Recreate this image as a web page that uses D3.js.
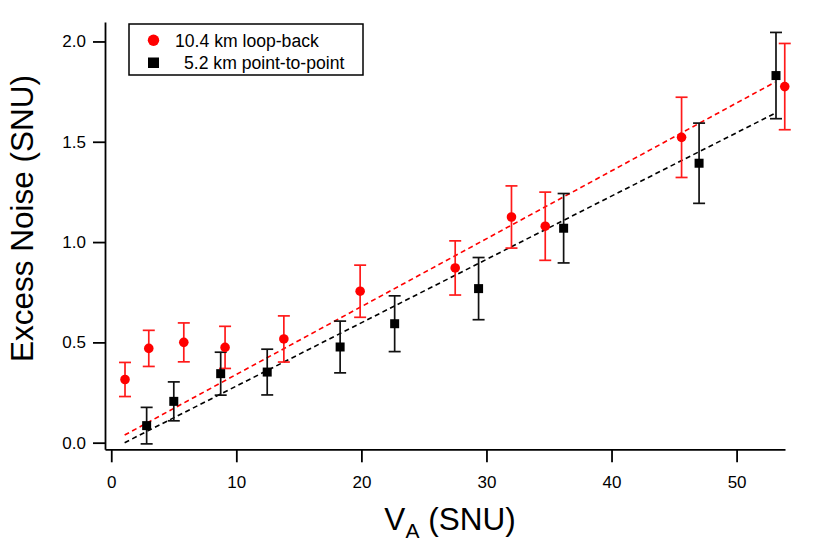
<!DOCTYPE html>
<html>
<head>
<meta charset="utf-8">
<script src="https://cdn.jsdelivr.net/npm/d3@7"></script>
<style>
	body { margin: 0; background: #fff; }
	svg { font-family: "Liberation Sans", Arial, Helvetica, sans-serif; }
</style>
</head>
<body>
<svg id="chart" width="830" height="541"></svg>
<script>
// 10.4 km loop-back (red circles)
let loopX = [1.1, 3.0, 5.8, 9.1, 13.8, 19.9, 27.5, 32.0, 34.7, 45.6, 53.85];
let loopY = [0.315, 0.47, 0.50, 0.475, 0.517, 0.755, 0.871, 1.125, 1.079, 1.522, 1.775];
let loopErr = [0.085, 0.09, 0.097, 0.105, 0.115, 0.13, 0.135, 0.155, 0.17, 0.2, 0.215];

// 5.2 km point-to-point (black squares)
let p2pX = [2.83, 5.0, 8.75, 12.47, 18.3, 22.66, 29.37, 36.17, 47.0, 53.15];
let p2pY = [0.085, 0.206, 0.344, 0.352, 0.477, 0.593, 0.768, 1.069, 1.393, 1.83];
let p2pErr = [0.091, 0.097, 0.107, 0.114, 0.129, 0.139, 0.155, 0.173, 0.2, 0.215];

// linear fits, end points
let fitX = [1.07, 53.07];
let loopFitY = [0.038, 1.797];
let p2pFitY = [0.0, 1.642];

let xTicks = [0, 10, 20, 30, 40, 50];
let yTicks = [0, 0.5, 1.0, 1.5, 2.0];

let legendLabels = ['10.4 km loop-back', '5.2 km point-to-point'];

let svg = d3.select('#chart');

let x = d3.scaleLinear()
	.domain([-0.5, 53.87])
	.range([105, 785]);

let y = d3.scaleLinear()
	.domain([-0.033, 2.097])
	.range([449.3, 22]);

// AXES
let xAxis = svg.append('g')
	.attr('transform', 'translate(0,449.3)')
	.call(d3.axisBottom(x)
		.tickValues(xTicks)
		.tickFormat(d3.format('d'))
		.tickSize(13)
		.tickSizeOuter(0)
		.tickPadding(14));

let yAxis = svg.append('g')
	.attr('transform', 'translate(105,0)')
	.call(d3.axisLeft(y)
		.tickValues(yTicks)
		.tickFormat(d3.format('.1f'))
		.tickSize(12)
		.tickSizeOuter(0)
		.tickPadding(7));

svg.selectAll('.domain, .tick line')
	.attr('stroke', '#000')
	.attr('stroke-width', 1.8);

svg.selectAll('.tick text')
	.attr('fill', '#000')
	.style('font-size', '17px');

svg.append('text')
	.attr('transform', 'translate(33,218.5) rotate(-90)')
	.attr('text-anchor', 'middle')
	.style('font-size', '31.5px')
	.text('Excess Noise (SNU)');

let xLabel = svg.append('text')
	.attr('x', 450)
	.attr('y', 530)
	.attr('text-anchor', 'middle')
	.style('font-size', '31.5px');
xLabel.append('tspan').text('V');
xLabel.append('tspan')
	.attr('dy', 8)
	.style('font-size', '21px')
	.text('A');
xLabel.append('tspan')
	.attr('dy', -8)
	.text(' (SNU)');

// FIT LINES
let line = d3.line()
	.x(d => x(d[0]))
	.y(d => y(d[1]));

svg.append('path')
	.attr('d', line(d3.zip(fitX, loopFitY)))
	.attr('fill', 'none')
	.attr('stroke', '#ff0000')
	.attr('stroke-width', 1.6)
	.attr('stroke-dasharray', '5,3.5');

svg.append('path')
	.attr('d', line(d3.zip(fitX, p2pFitY)))
	.attr('fill', 'none')
	.attr('stroke', '#000')
	.attr('stroke-width', 1.6)
	.attr('stroke-dasharray', '5,3.5');

// ERROR BARS
function errorBars(xs, ys, errs, colour) {
	let data = d3.zip(xs, ys, errs);
	let g = svg.append('g')
		.attr('stroke', colour)
		.attr('stroke-width', 1.7);

	g.selectAll('line.bar')
		.data(data)
		.join('line')
		.attr('class', 'bar')
		.attr('x1', d => x(d[0]))
		.attr('x2', d => x(d[0]))
		.attr('y1', d => y(d[1] - d[2]))
		.attr('y2', d => y(d[1] + d[2]));

	g.selectAll('line.top')
		.data(data)
		.join('line')
		.attr('class', 'top')
		.attr('x1', d => x(d[0]) - 6)
		.attr('x2', d => x(d[0]) + 6)
		.attr('y1', d => y(d[1] + d[2]))
		.attr('y2', d => y(d[1] + d[2]));

	g.selectAll('line.bottom')
		.data(data)
		.join('line')
		.attr('class', 'bottom')
		.attr('x1', d => x(d[0]) - 6)
		.attr('x2', d => x(d[0]) + 6)
		.attr('y1', d => y(d[1] - d[2]))
		.attr('y2', d => y(d[1] - d[2]));
}

errorBars(loopX, loopY, loopErr, '#ff1a1a');
errorBars(p2pX, p2pY, p2pErr, '#111');

// MARKERS
svg.append('g')
	.selectAll('circle')
	.data(d3.zip(loopX, loopY))
	.join('circle')
	.attr('cx', d => x(d[0]))
	.attr('cy', d => y(d[1]))
	.attr('r', 4.8)
	.attr('fill', '#ff0000');

svg.append('g')
	.selectAll('rect')
	.data(d3.zip(p2pX, p2pY))
	.join('rect')
	.attr('x', d => x(d[0]) - 4.5)
	.attr('y', d => y(d[1]) - 4.5)
	.attr('width', 9)
	.attr('height', 9)
	.attr('fill', '#000');

// LEGEND
let legend = svg.append('g');

legend.append('rect')
	.attr('x', 129)
	.attr('y', 24)
	.attr('width', 234)
	.attr('height', 51)
	.attr('fill', '#fff')
	.attr('stroke', '#000')
	.attr('stroke-width', 1.5);

legend.append('circle')
	.attr('cx', 153.5)
	.attr('cy', 40.3)
	.attr('r', 5.7)
	.attr('fill', '#ff0000');

legend.append('rect')
	.attr('x', 148)
	.attr('y', 57.5)
	.attr('width', 11)
	.attr('height', 10.5)
	.attr('fill', '#000');

legend.append('text')
	.attr('x', 175)
	.attr('y', 46.5)
	.style('font-size', '17.6px')
	.text(legendLabels[0]);

legend.append('text')
	.attr('x', 184)
	.attr('y', 68.5)
	.style('font-size', '17.6px')
	.text(legendLabels[1]);
</script>
</body>
</html>
